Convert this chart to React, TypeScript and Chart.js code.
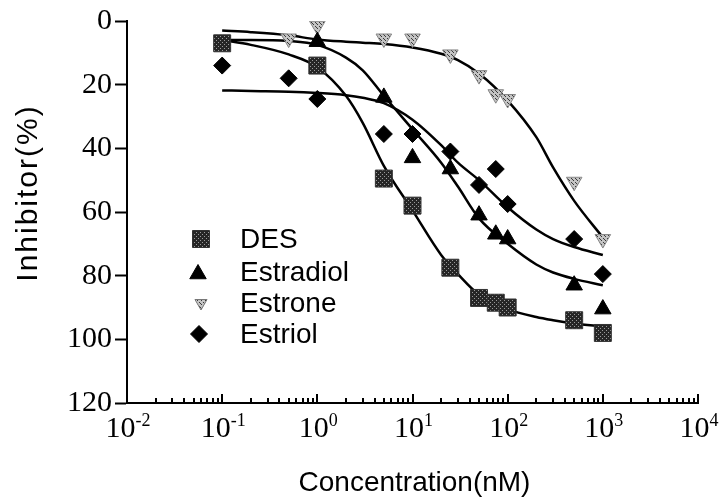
import React, { useEffect, useRef } from 'react';
import { Chart, registerables } from 'chart.js';

Chart.register(...registerables);

// ---------- data ----------
const seriesNames = ['DES', 'Estradiol', 'Estrone', 'Estriol'];

const desX = [0.1, 1, 5, 10, 25, 50, 75, 100, 500, 1000];
const desY = [7, 14, 49.5, 58, 77.5, 87, 88.5, 90, 94, 98];

const estradiolX = [1, 5, 10, 25, 50, 75, 100, 500, 1000];
const estradiolY = [6.5, 24, 43, 46.5, 61, 67, 68.5, 83, 90.5];

const estroneX = [0.5, 1, 5, 10, 25, 50, 75, 100, 500, 1000];
const estroneY = [5.5, 1.5, 5.5, 5.5, 10.5, 17, 23, 24.5, 50.5, 68.5];

const estriolX = [0.1, 0.5, 1, 5, 10, 25, 50, 75, 100, 500, 1000];
const estriolY = [14, 18, 24.5, 35.5, 35.5, 41, 51.5, 46.5, 57.5, 68.5, 79.5];

// fitted curves
const curveX = [0.1, 0.2, 0.5, 1, 2, 3, 5, 10, 20, 30, 50, 100, 200, 300, 500, 1000];
const desCurve = [6, 7.5, 10.5, 14.5, 23.5, 32, 45.5, 59.5, 73.5, 79.5, 86, 90.5, 93, 94, 95, 96];
const estradiolCurve = [6, 6, 6.3, 7.5, 11.5, 15.5, 23.5, 34, 44.5, 52, 62, 70, 76.5, 79, 81, 83];
const estroneCurve = [3, 3.5, 4.5, 5.8, 6.5, 6.8, 7.2, 8.3, 10.3, 12.3, 16.5, 25, 36.5, 46, 56.5, 68];
const estriolCurve = [21.8, 22, 22.2, 22.6, 23.3, 24.1, 25.8, 31, 39, 44.5, 50, 58.5, 65.5, 68.5, 71, 73.5];

// axes
const xDecades = [0.01, 0.1, 1, 10, 100, 1000, 10000];
const xDecadeExponents = ['-2', '-1', '0', '1', '2', '3', '4'];
const xMinorMultipliers = [2, 3, 4, 5, 6, 7, 8, 9];
const yMin = 0;
const yMax = 120;
const yStep = 20;
const xTitle = 'Concentration(nM)';
const yTitle = 'Inhibitor(%)';

const toPoints = (xs: number[], ys: number[]) => xs.map((x, i) => ({ x, y: ys[i] }));

function makePattern(base: string, speck: string, cells: number[][]) {
  const c = document.createElement('canvas');
  c.width = 4;
  c.height = 4;
  const g = c.getContext('2d')!;
  g.fillStyle = base;
  g.fillRect(0, 0, 4, 4);
  g.fillStyle = speck;
  cells.forEach(([a, b]) => g.fillRect(a, b, 1, 1));
  return g.createPattern(c, 'repeat')!;
}

type Marker = { style: string; r: number; rot: number; fill: any; stroke: string };

function drawMarker(ctx: CanvasRenderingContext2D, m: Marker, x: number, y: number) {
  ctx.save();
  ctx.beginPath();
  const r = m.r;
  if (m.style === 'rect') {
    const s = Math.SQRT1_2 * r;
    ctx.rect(x - s, y - s, 2 * s, 2 * s);
  } else if (m.style === 'rectRot') {
    ctx.moveTo(x - r, y);
    ctx.lineTo(x, y - r);
    ctx.lineTo(x + r, y);
    ctx.lineTo(x, y + r);
    ctx.closePath();
  } else {
    let rad = (m.rot * Math.PI) / 180;
    ctx.moveTo(x + Math.sin(rad) * r, y - Math.cos(rad) * r);
    rad += (2 * Math.PI) / 3;
    ctx.lineTo(x + Math.sin(rad) * r, y - Math.cos(rad) * r);
    rad += (2 * Math.PI) / 3;
    ctx.lineTo(x + Math.sin(rad) * r, y - Math.cos(rad) * r);
    ctx.closePath();
  }
  ctx.fillStyle = m.fill;
  ctx.fill();
  ctx.lineWidth = 1;
  ctx.strokeStyle = m.stroke;
  ctx.stroke();
  ctx.restore();
}

export default function App() {
  const ref = useRef<HTMLCanvasElement>(null);

  useEffect(() => {
    const canvas = ref.current!;
    const desFill = makePattern('#262626', '#9a9a9a', [[0, 0], [2, 2]]);
    const estroneFill = makePattern('#c4c4c4', '#3a3a3a', [[1, 0], [3, 2], [0, 3]]);

    const legendMarkers: Marker[] = [
      { style: 'rect', r: 12, rot: 0, fill: desFill, stroke: '#333' },
      { style: 'triangle', r: 9.5, rot: 0, fill: '#000', stroke: '#000' },
      { style: 'triangle', r: 7, rot: 180, fill: estroneFill, stroke: '#777' },
      { style: 'rectRot', r: 8.5, rot: 0, fill: '#000', stroke: '#000' },
    ];

    const overlay = {
      id: 'overlay',
      afterDraw(chart: any) {
        const ctx: CanvasRenderingContext2D = chart.ctx;
        const xs = chart.scales.x;
        const axisY = xs.top;
        ctx.save();
        // x ticks, drawn upward into the plot
        ctx.strokeStyle = '#000';
        ctx.lineWidth = 2;
        xDecades.forEach((d, i) => {
          const px = Math.round(xs.getPixelForValue(d));
          ctx.beginPath();
          ctx.moveTo(px, axisY);
          ctx.lineTo(px, axisY - 9);
          ctx.stroke();
          if (i < xDecades.length - 1) {
            xMinorMultipliers.forEach((m) => {
              const mp = Math.round(xs.getPixelForValue(d * m));
              ctx.beginPath();
              ctx.moveTo(mp, axisY);
              ctx.lineTo(mp, axisY - 5);
              ctx.stroke();
            });
          }
        });
        // x tick labels 10^n
        ctx.fillStyle = '#000';
        ctx.textBaseline = 'alphabetic';
        ctx.textAlign = 'left';
        xDecades.forEach((d, i) => {
          const px = xs.getPixelForValue(d);
          ctx.font = '30px "Liberation Serif"';
          const w10 = ctx.measureText('10').width;
          ctx.font = '18px "Liberation Serif"';
          const we = ctx.measureText(xDecadeExponents[i]).width;
          const start = px - (w10 + we) / 2 + 1;
          ctx.font = '30px "Liberation Serif"';
          ctx.fillText('10', start, 437);
          ctx.font = '18px "Liberation Serif"';
          ctx.fillText(xDecadeExponents[i], start + w10, 426);
        });
        // axis titles
        ctx.font = '28px "Liberation Sans"';
        ctx.textAlign = 'center';
        ctx.fillText(xTitle, (chart.chartArea.left + chart.chartArea.right) / 2 + 2, 491);
        ctx.save();
        ctx.translate(37, 193);
        ctx.rotate(-Math.PI / 2);
        ctx.font = '30px "Liberation Sans"';
        (ctx as any).letterSpacing = '2px';
        ctx.fillText(yTitle, 0, 0);
        ctx.restore();
        // legend
        const rowY = [239, 272, 303, 334];
        const markerX = [201, 198, 201, 199];
        ctx.font = '28px "Liberation Sans"';
        ctx.textAlign = 'left';
        ctx.textBaseline = 'middle';
        seriesNames.forEach((name, i) => {
          drawMarker(ctx, legendMarkers[i], markerX[i], rowY[i] + (i === 1 ? 2 : 0));
          ctx.fillStyle = '#000';
          ctx.fillText(name, 240, rowY[i] + 1);
        });
        ctx.restore();
      },
    };

    const curveStyle = {
      showLine: true,
      pointRadius: 0,
      borderColor: '#000',
      borderWidth: 2.5,
      cubicInterpolationMode: 'monotone' as const,
      fill: false,
    };

    const chart = new Chart(canvas, {
      type: 'scatter',
      data: {
        datasets: [
          {
            label: seriesNames[0],
            data: toPoints(desX, desY),
            pointStyle: 'rect',
            pointRadius: 12,
            backgroundColor: desFill,
            borderColor: '#333',
            borderWidth: 1,
          },
          {
            label: seriesNames[1],
            data: toPoints(estradiolX, estradiolY),
            pointStyle: 'triangle',
            pointRadius: 9.5,
            backgroundColor: '#000',
            borderColor: '#000',
            borderWidth: 1,
          },
          {
            label: seriesNames[2],
            data: toPoints(estroneX, estroneY),
            pointStyle: 'triangle',
            rotation: 180,
            pointRadius: 9,
            backgroundColor: estroneFill,
            borderColor: '#888',
            borderWidth: 1,
          },
          {
            label: seriesNames[3],
            data: toPoints(estriolX, estriolY),
            pointStyle: 'rectRot',
            pointRadius: 8.5,
            backgroundColor: '#000',
            borderColor: '#000',
            borderWidth: 1,
          },
          { label: 'DES fit', data: toPoints(curveX, desCurve), ...curveStyle },
          { label: 'Estradiol fit', data: toPoints(curveX, estradiolCurve), ...curveStyle },
          { label: 'Estrone fit', data: toPoints(curveX, estroneCurve), ...curveStyle },
          { label: 'Estriol fit', data: toPoints(curveX, estriolCurve), ...curveStyle },
        ] as any,
      },
      options: {
        responsive: false,
        animation: false,
        layout: { padding: { top: 21, right: 23, left: 0, bottom: 0 } },
        plugins: {
          legend: { display: false },
          tooltip: { enabled: false },
        },
        scales: {
          x: {
            type: 'logarithmic',
            min: xDecades[0],
            max: xDecades[xDecades.length - 1],
            grid: { display: false },
            ticks: { display: false },
            border: { display: true, color: '#000', width: 2 },
            afterFit: (s: any) => {
              s.height = 96;
            },
          },
          y: {
            type: 'linear',
            min: yMin,
            max: yMax,
            reverse: true,
            ticks: {
              stepSize: yStep,
              color: '#000',
              padding: 3,
              font: { family: '"Liberation Serif"', size: 30 },
            },
            grid: {
              display: true,
              drawOnChartArea: false,
              drawTicks: true,
              tickLength: 12,
              tickWidth: 2,
              tickColor: '#000',
            },
            border: { display: true, color: '#000', width: 2 },
            afterFit: (s: any) => {
              s.width = 127;
            },
          },
        },
      } as any,
      plugins: [overlay],
    });
    return () => chart.destroy();
  }, []);

  return (
    <div style={{ position: 'absolute', left: 0, top: 0, width: 721, height: 499, background: '#fff' }}>
      <canvas ref={ref} width={721} height={499} style={{ display: 'block', width: 721, height: 499 }} />
    </div>
  );
}
